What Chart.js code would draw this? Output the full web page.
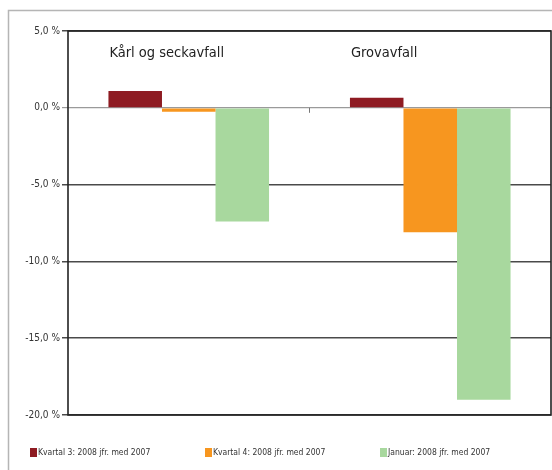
<!DOCTYPE html>
<html lang="no">
<head>
    <meta charset="UTF-8">
    <title>Avfall 2008 jfr. med 2007</title>
    <script src="https://cdn.jsdelivr.net/npm/chart.js"></script>
    <style>
        html, body { margin: 0; padding: 0; background: #fff; }
        #wrap { width: 552px; height: 470px; position: relative; }
    </style>
</head>
<body>
    <div id="wrap"><canvas id="chart" width="552" height="470"></canvas></div>

    <script>
    // data
    const categories = ['Kårl og seckavfall', 'Grovavfall'];
    const seriesNames = ['Kvartal 3: 2008 jfr. med 2007', 'Kvartal 4: 2008 jfr. med 2007', 'Januar: 2008 jfr. med 2007'];
    const kvartal3 = [1.1, 0.65];
    const kvartal4 = [-0.25, -8.1];
    const januar = [-7.4, -19.0];
    const yTicks = [5, 0, -5, -10, -15, -20];

    const colors = ['#8e1b22', '#f7961f', '#a8d89e'];
    const font = "'Liberation Sans Narrow', 'DejaVu Sans Condensed', sans-serif";

    // outer frame + plot border
    const framePlugin = {
        id: 'frame',
        beforeDraw(chart) {
            const ctx = chart.ctx;
            ctx.save();
            ctx.strokeStyle = '#b5b5b5';
            ctx.lineWidth = 1.5;
            ctx.beginPath();
            ctx.moveTo(8.5, 470);
            ctx.lineTo(8.5, 10.5);
            ctx.lineTo(552, 10.5);
            ctx.stroke();
            ctx.restore();
        },
        afterDatasetsDraw(chart) {
            const a = chart.chartArea;
            const ctx = chart.ctx;
            ctx.save();
            ctx.strokeStyle = '#222';
            ctx.lineWidth = 1.6;
            ctx.strokeRect(a.left, a.top, a.right - a.left, a.bottom - a.top);
            // little tick between the two groups on the zero line
            const xMid = (chart.scales.x.getPixelForValue(0) + chart.scales.x.getPixelForValue(1)) / 2;
            const y0 = chart.scales.y.getPixelForValue(0);
            ctx.strokeStyle = '#777';
            ctx.lineWidth = 1;
            ctx.beginPath();
            ctx.moveTo(xMid, y0);
            ctx.lineTo(xMid, y0 + 5);
            ctx.stroke();
            ctx.restore();
        }
    };

    // category names inside the plot, left aligned to the first bar of each group
    const categoryLabels = {
        id: 'categoryLabels',
        afterDraw(chart) {
            const ctx = chart.ctx;
            const meta = chart.getDatasetMeta(0);
            ctx.save();
            ctx.fillStyle = '#222';
            ctx.font = '14.5px ' + font;
            ctx.textBaseline = 'alphabetic';
            chart.data.labels.forEach((label, i) => {
                const bar = meta.data[i];
                ctx.fillText(label, bar.x - bar.width / 2 + 1, 57);
            });
            ctx.restore();
        }
    };

    // small legend row under the plot
    const bottomLegend = {
        id: 'bottomLegend',
        afterDraw(chart) {
            const ctx = chart.ctx;
            const xs = [30, 205, 380];
            ctx.save();
            ctx.font = '8.5px ' + font;
            ctx.textBaseline = 'middle';
            chart.data.datasets.forEach((ds, i) => {
                ctx.fillStyle = ds.backgroundColor;
                ctx.fillRect(xs[i], 448, 7, 9);
                ctx.fillStyle = '#333';
                ctx.fillText(ds.label, xs[i] + 8, 453);
            });
            ctx.restore();
        }
    };

    new Chart(document.getElementById('chart'), {
        type: 'bar',
        data: {
            labels: categories,
            datasets: [
                { label: seriesNames[0], data: kvartal3, backgroundColor: colors[0] },
                { label: seriesNames[1], data: kvartal4, backgroundColor: colors[1] },
                { label: seriesNames[2], data: januar, backgroundColor: colors[2] }
            ]
        },
        options: {
            responsive: false,
            animation: false,
            devicePixelRatio: 1,
            layout: { padding: { top: 31, right: 1, bottom: 55, left: 0 } },
            datasets: { bar: { categoryPercentage: 0.665, barPercentage: 1 } },
            plugins: {
                legend: { display: false },
                tooltip: { enabled: false }
            },
            scales: {
                x: {
                    display: false,
                    grid: { display: false }
                },
                y: {
                    min: -20,
                    max: 5,
                    afterFit(scale) { scale.width = 68; },
                    afterBuildTicks(scale) { scale.ticks = yTicks.map(v => ({ value: v })); },
                    border: { display: false },
                    grid: {
                        color: c => c.tick && c.tick.value === 0 ? '#9a9a9a' : '#4a4a4a',
                        lineWidth: c => c.tick && c.tick.value === 0 ? 1.2 : 1.5,
                        tickLength: 6
                    },
                    ticks: {
                        padding: 2,
                        color: '#333',
                        font: { family: font, size: 10 },
                        callback: v => v.toFixed(1).replace('.', ',') + ' %'
                    }
                }
            }
        },
        plugins: [framePlugin, categoryLabels, bottomLegend]
    });
    </script>
</body>
</html>
